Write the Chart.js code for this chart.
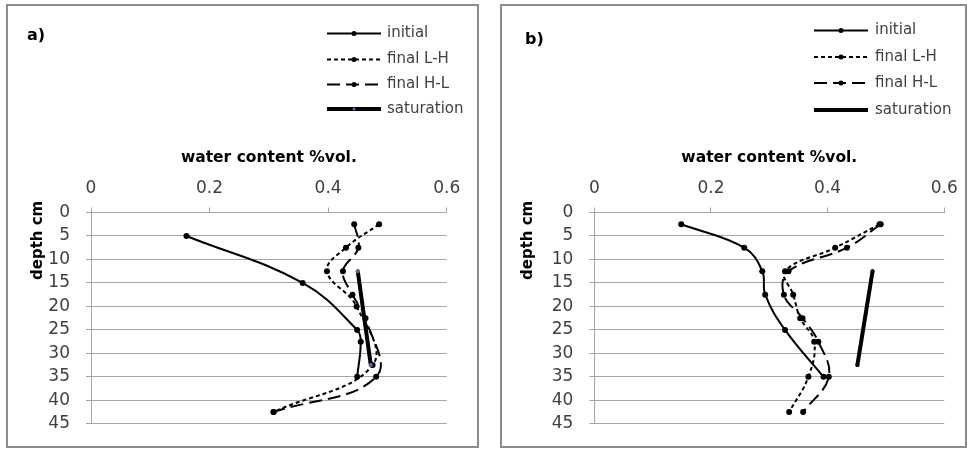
<!DOCTYPE html>
<html>
<head>
<meta charset="utf-8">
<script src="https://cdn.jsdelivr.net/npm/chart.js@4.4.1/dist/chart.umd.min.js"></script>
<style>
  html, body { margin: 0; padding: 0; background: #fff; }
  body { width: 967px; height: 450px; position: relative; overflow: hidden; }
  .wrap { position: absolute; top: 0; height: 450px; }
  .panel { position: absolute; box-sizing: border-box; border: 2px solid #8c8c8c; pointer-events: none; }
</style>
</head>
<body>
<div class="wrap" style="left:0;width:490px"><canvas id="chartA" width="490" height="450"></canvas></div>
<div class="wrap" style="left:490px;width:477px"><canvas id="chartB" width="477" height="450"></canvas></div>
<div class="panel" style="left:6px;top:4px;width:473px;height:444px"></div>
<div class="panel" style="left:500px;top:4px;width:467px;height:444px"></div>
<script>
// Axis ticks shared by both panels
const xTickValues = [0, 0.2, 0.4, 0.6];
const depthTickValues = [0, 5, 10, 15, 20, 25, 30, 35, 40, 45];
const seriesNames = ['initial', 'final L-H', 'final H-L', 'saturation'];

// Panel a) — depth (cm) and water content (%vol.)
const depthInitialA = [5, 15, 25, 27.5, 35];
const waterInitialA = [0.161, 0.357, 0.449, 0.455, 0.449];
const depthLHA = [2.5, 7.5, 12.5, 20, 32.5, 42.5];
const waterLHA = [0.486, 0.430, 0.398, 0.448, 0.475, 0.308];
const depthHLA = [2.5, 7.5, 12.5, 17.5, 22.5, 35, 42.5];
const waterHLA = [0.444, 0.451, 0.425, 0.441, 0.463, 0.481, 0.308];
const depthSatA = [12.5, 32.5];
const waterSatA = [0.450, 0.472];

// Panel b)
const depthInitialB = [2.5, 7.5, 12.5, 17.5, 25, 35];
const waterInitialB = [0.149, 0.257, 0.288, 0.293, 0.327, 0.393];
const depthLHB = [2.5, 7.5, 12.5, 17.5, 22.5, 27.5, 35, 42.5];
const waterLHB = [0.489, 0.413, 0.327, 0.341, 0.353, 0.377, 0.367, 0.334];
const depthHLB = [2.5, 7.5, 12.5, 17.5, 22.5, 27.5, 35, 42.5];
const waterHLB = [0.491, 0.433, 0.333, 0.325, 0.357, 0.384, 0.402, 0.358];
const depthSatB = [12.5, 32.5];
const waterSatB = [0.477, 0.451];

Chart.defaults.font.family = '"DejaVu Sans", sans-serif';

const toPoints = (depths, water) => depths.map((d, i) => ({ x: water[i], y: d }));

function profileDataset(label, depths, water, style) {
  return Object.assign({
    label,
    data: toPoints(depths, water),
    showLine: true,
    borderColor: '#000',
    backgroundColor: '#000',
    pointBackgroundColor: '#000',
    pointBorderColor: '#000',
    pointRadius: 3,
    pointBorderWidth: 0,
    borderWidth: 2,
    tension: 0.4,
    clip: false
  }, style);
}

// Panel tag, rotated depth title and the line-sample legend
const panelDecor = {
  id: 'panelDecor',
  afterDraw(chart, args, opts) {
    const ctx = chart.ctx;
    ctx.save();
    ctx.fillStyle = '#000';
    ctx.textAlign = 'left';
    ctx.textBaseline = 'alphabetic';
    ctx.font = 'bold 16px "DejaVu Sans"';
    ctx.fillText(opts.tag, opts.tagX, opts.tagY);
    ctx.translate(opts.yTitleX, opts.yTitleY);
    ctx.rotate(-Math.PI / 2);
    ctx.font = 'bold 15px "DejaVu Sans"';
    ctx.fillText('depth cm', 0, 0);
    ctx.restore();

    const lg = opts.legend;
    chart.data.datasets.forEach((ds, i) => {
      const y = lg.rows[i];
      ctx.save();
      ctx.strokeStyle = ds.borderColor;
      ctx.lineWidth = ds.borderWidth;
      ctx.setLineDash(ds.borderDash || []);
      ctx.beginPath();
      ctx.moveTo(lg.x0, y);
      ctx.lineTo(lg.x1, y);
      ctx.stroke();
      ctx.setLineDash([]);
      ctx.fillStyle = ds.pointBackgroundColor;
      ctx.beginPath();
      ctx.arc((lg.x0 + lg.x1) / 2, y, Math.max(ds.pointRadius - 0.5, 1.5), 0, Math.PI * 2);
      ctx.fill();
      ctx.fillStyle = '#404040';
      ctx.font = '15px "DejaVu Sans"';
      ctx.textBaseline = 'middle';
      ctx.textAlign = 'left';
      ctx.fillText(ds.label, lg.tx, y);
      ctx.restore();
    });
  }
};

function makeChart(id, sets, geo, decor) {
  const [ini, lh, hl, sat] = sets;
  return new Chart(document.getElementById(id), {
    type: 'scatter',
    data: {
      datasets: [
        profileDataset(seriesNames[0], ini[0], ini[1], { order: 1 }),
        profileDataset(seriesNames[1], lh[0], lh[1], { order: 2, borderDash: [4, 3] }),
        profileDataset(seriesNames[2], hl[0], hl[1], { order: 3, borderDash: [13, 6] }),
        profileDataset(seriesNames[3], sat[0], sat[1], {
          order: 0, borderWidth: 4, borderCapStyle: 'round', tension: 0,
          pointRadius: 2, pointBackgroundColor: decor.satPoint, pointBorderColor: decor.satPoint
        })
      ]
    },
    options: {
      responsive: false,
      animation: false,
      devicePixelRatio: 1,
      layout: { padding: { left: 0, top: 120, right: geo.padRight, bottom: 15.5 } },
      plugins: {
        legend: { display: false },
        tooltip: { enabled: false },
        panelDecor: decor
      },
      scales: {
        x: {
          type: 'linear',
          position: 'top',
          min: 0,
          max: 0.6,
          afterBuildTicks: s => { s.ticks = xTickValues.map(v => ({ value: v })); },
          afterFit: s => { s.height = 92.5; },
          ticks: { color: '#404040', font: { size: 17 }, padding: 9 },
          grid: { drawOnChartArea: false, drawTicks: true, tickLength: 5, color: '#a6a6a6' },
          border: { display: true, color: '#a6a6a6' },
          title: {
            display: true,
            text: 'water content %vol.',
            color: '#000',
            font: { size: 15.5, weight: 'bold' },
            padding: { top: 29, bottom: 0 }
          }
        },
        y: {
          type: 'linear',
          reverse: true,
          min: 0,
          max: 45,
          afterBuildTicks: s => { s.ticks = depthTickValues.map(v => ({ value: v })); },
          afterFit: s => { s.width = geo.yWidth; },
          ticks: { color: '#404040', font: { size: 17 }, padding: 16 },
          grid: { drawOnChartArea: true, drawTicks: true, tickLength: 5, color: '#a6a6a6' },
          border: { display: true, color: '#a6a6a6' }
        }
      }
    },
    plugins: [panelDecor]
  });
}

makeChart('chartA',
  [[depthInitialA, waterInitialA], [depthLHA, waterLHA], [depthHLA, waterHLA], [depthSatA, waterSatA]],
  { yWidth: 91, padRight: 43.3 },
  { tag: 'a)', tagX: 27, tagY: 40, yTitleX: 42, yTitleY: 280, satPoint: '#7a5ca8',
    legend: { x0: 327, x1: 381, tx: 387, rows: [33.5, 59.5, 84.5, 109] } });

makeChart('chartB',
  [[depthInitialB, waterInitialB], [depthLHB, waterLHB], [depthHLB, waterHLB], [depthSatB, waterSatB]],
  { yWidth: 104.3, padRight: 22.7 },
  { tag: 'b)', tagX: 35, tagY: 44, yTitleX: 42, yTitleY: 280, satPoint: '#000',
    legend: { x0: 324, x1: 378, tx: 385, rows: [30.5, 57, 83, 110] } });
</script>
</body>
</html>
